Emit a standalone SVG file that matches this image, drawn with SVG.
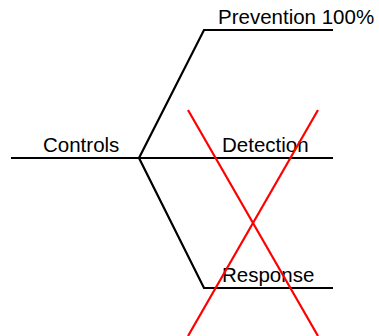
<svg xmlns="http://www.w3.org/2000/svg" width="379" height="336" viewBox="0 0 379 336">
<style>
.ln{fill:none;stroke:#000;stroke-width:2.2}
.x{fill:none;stroke:#ff0000;stroke-width:2.2}
text{font-family:"Liberation Sans",Arial,sans-serif;font-size:20.5px;fill:#000}
</style>
<rect width="379" height="336" fill="#fff"/>
<g id="connectors">
<polyline class="ln" points="11,158 333,158"/>
<polyline class="ln" points="139,158 204,30 333,30"/>
<polyline class="ln" points="139,158 204,288 333,288"/>
</g>
<g id="controls"><text x="43" y="152">Controls</text></g>
<g id="prevention"><text x="218" y="24">Prevention 100%</text></g>
<g id="detection"><text x="222" y="152">Detection</text></g>
<g id="response"><text x="222" y="282">Response</text></g>
<g id="cross">
<line class="x" x1="188" y1="110" x2="318" y2="336"/>
<line class="x" x1="318" y1="110" x2="188" y2="336"/>
</g>
</svg>
